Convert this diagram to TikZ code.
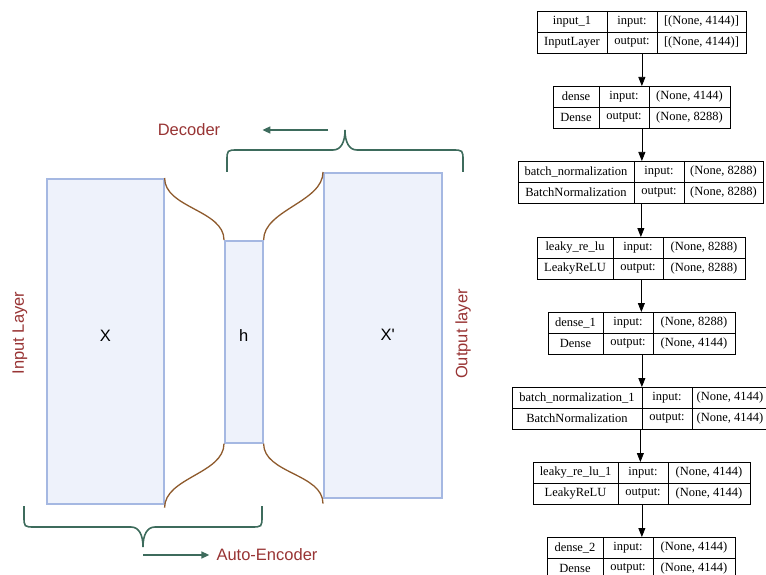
\documentclass[tikz,border=0pt]{standalone}
\usepackage{fontspec}
\setmainfont{Liberation Serif}
\setsansfont{Liberation Sans}
\usetikzlibrary{arrows.meta}

\definecolor{layerfill}{HTML}{EEF2FB}
\definecolor{layerdraw}{HTML}{A5B8E2}
\definecolor{neckbrown}{HTML}{8E5A2C}
\definecolor{bracegreen}{HTML}{3D6B5C}
\definecolor{labelred}{HTML}{983434}

\tikzset{
  vec/.style={draw=layerdraw, fill=layerfill, line width=1.6pt, anchor=north west, inner sep=0pt},
  vectxt/.style={font=\sffamily\fontsize{16.5}{19}\selectfont, inner sep=0pt},
  neck/.style={draw=neckbrown, line width=1.3pt},
  brace/.style={draw=bracegreen, line width=1.6pt},
  brarrow/.style={brace, -{Triangle[length=8pt,width=7pt]}},
  lbl/.style={text=labelred, inner sep=0pt, font=\sffamily\fontsize{16.5}{19}\selectfont},
  lay/.style={draw, line width=.75pt, inner sep=0pt, minimum height=42pt, anchor=north west},
  laytxt/.style={font=\fontsize{12.5}{14}\selectfont, inner sep=0pt},
  flow/.style={line width=.75pt, -{Triangle[length=9pt,width=7pt]}},
}

% name, left, first rule, right, top, layer, class, in, out
\newcommand{\layer}[9]{%
  \node[lay, minimum width={(#4-#2)*1pt}] (#1) at (#2,#5) {};
  \draw[line width=.75pt] (#1.west) -- (#1.east) (#3,#5) -- ++(0,42) (#3+50,#5) -- ++(0,42);
  \node[laytxt] at ({(#2+#3)/2},#5+10.5) {#6};
  \node[laytxt] at ({(#2+#3)/2},#5+31.5) {#7};
  \node[laytxt] at (#3+25,#5+10.5) {input:};
  \node[laytxt] at (#3+25,#5+31.5) {output:};
  \node[laytxt] at ({(#3+50+#4)/2},#5+10.5) {#8};
  \node[laytxt] at ({(#3+50+#4)/2},#5+31.5) {#9};
}

\begin{document}
\begin{tikzpicture}[x=1pt,y=-1pt]
  \useasboundingbox (0,0) rectangle (766,575);

  % auto-encoder sketch
  \node[vec, minimum width=117pt, minimum height=325pt,
    label={[vectxt, yshift=5pt]center:X}] (X) at (46,178) {};
  \node[vec, minimum width=38pt, minimum height=202pt,
    label={[vectxt, yshift=6pt]center:h}] (h) at (224,240) {};
  \node[vec, minimum width=118pt, minimum height=325pt,
    label={[vectxt, xshift=5pt]center:X\textquotesingle}] (Xp) at (323,172) {};

  \draw[neck] (X.north east) .. controls +(0,30) and +(0,-30) .. (h.north west);
  \draw[neck] (h.north east) .. controls +(0,-30) and +(0,30) .. (Xp.north west);
  \draw[neck] ([yshift=-3pt]X.south east) .. controls +(0,-30) and +(0,30) .. (h.south west);
  \draw[neck] (h.south east) .. controls +(0,30) and +(0,-30) .. ([yshift=-5pt]Xp.south west);

  \node[lbl, rotate=90] (inl) at (20,333) {Input Layer};
  \node[lbl, rotate=90] (outl) at (463,334) {Output layer};
  \node[lbl] (dec) at (189,130) {Decoder};
  \node[lbl] (ae) at (267,555) {Auto-Encoder};

  \draw[brace] (227,172) -- (227,161) .. controls (227,150) .. (238,150) -- (333,150)
    .. controls (341,150) and (345,142) .. (345,130) coordinate (dectip)
    .. controls (345,142) and (349,150) .. (357,150) -- (452,150)
    .. controls (463,150) .. (463,161) -- (463,172);
  \draw[brace] (24,506) -- (24,516) .. controls (24,527) .. (35,527) -- (131,527)
    .. controls (139,527) and (143,535) .. (143,547) coordinate (aetip)
    .. controls (143,535) and (147,527) .. (155,527) -- (251,527)
    .. controls (262,527) .. (262,516) -- (262,506);
  \draw[brarrow, shorten <=17pt, shorten >=42pt] (dectip) -- (dec.east);
  \draw[brarrow, shorten >=7pt] ([yshift=-8pt]aetip) -- (ae.west);

  % keras model plot
  \layer{input1}{537}{607}{746}{11}{input\_1}{InputLayer}{[(None, 4144)]}{[(None, 4144)]}
  \layer{dense}{553}{599}{730}{86}{dense}{Dense}{(None, 4144)}{(None, 8288)}
  \layer{bn}{518}{634}{763}{161}{batch\_normalization}{BatchNormalization}{(None, 8288)}{(None, 8288)}
  \layer{lrelu}{537}{613}{745}{237}{leaky\_re\_lu}{LeakyReLU}{(None, 8288)}{(None, 8288)}
  \layer{denseA}{548}{603}{735}{312}{dense\_1}{Dense}{(None, 8288)}{(None, 4144)}
  \layer{bnA}{512}{642}{768}{387}{batch\_normalization\_1}{BatchNormalization}{(None, 4144)}{(None, 4144)}
  \layer{lreluA}{533}{618}{750}{462}{leaky\_re\_lu\_1}{LeakyReLU}{(None, 4144)}{(None, 4144)}
  \layer{denseB}{547}{603}{735}{537}{dense\_2}{Dense}{(None, 4144)}{(None, 4144)}

  \foreach \a/\b in {input1/dense, dense/bn, bn/lrelu, lrelu/denseA, denseA/bnA, bnA/lreluA, lreluA/denseB}
    \draw[flow] (\a.south) -- (\a.south |- \b.north);
\end{tikzpicture}
\end{document}
